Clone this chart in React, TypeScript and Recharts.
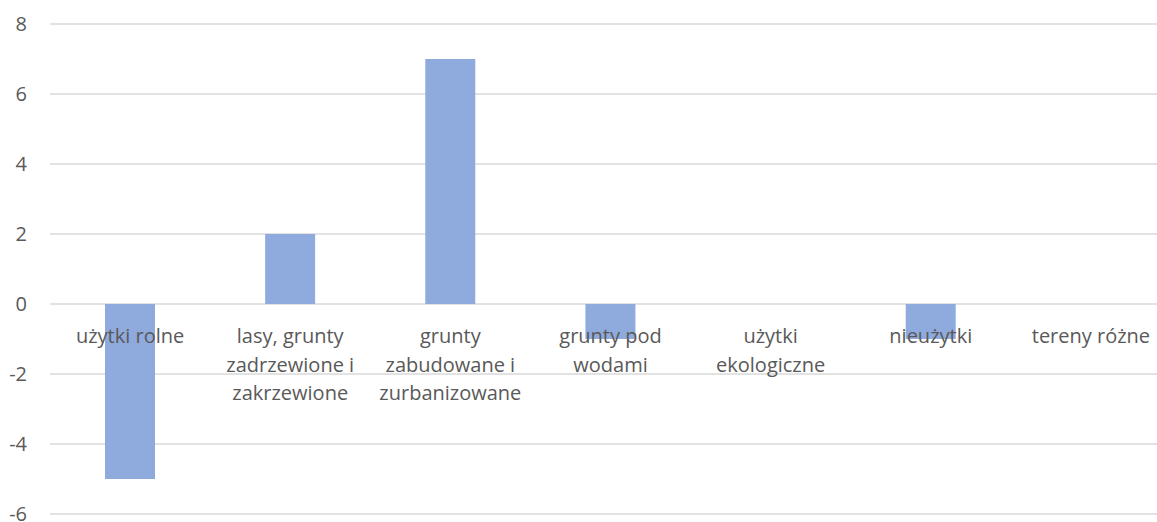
import { BarChart, Bar, XAxis, YAxis, CartesianGrid } from 'recharts'

const categories = [
  'użytki rolne',
  'lasy, grunty zadrzewione i zakrzewione',
  'grunty zabudowane i zurbanizowane',
  'grunty pod wodami',
  'użytki ekologiczne',
  'nieużytki',
  'tereny różne',
]
const values = [-5, 2, 7, -1, 0, -1, 0]
const yTicks = [-6, -4, -2, 0, 2, 4, 6, 8]

const data = categories.map((name, i) => ({ name, value: values[i] }))

const CHART_W = 1171
const CHART_H = 522
const TOP = 24
const X_AXIS_H = 8
const Y_MIN = -6
const Y_MAX = 8
const PLOT_H = CHART_H - TOP - X_AXIS_H
const FONT = '"Open Sans", sans-serif'

// greedy wrap, roughly like Excel does inside a category slot
function wrap(label: string, maxChars = 13) {
  const lines: string[] = []
  let cur = ''
  for (const w of label.split(' ')) {
    const next = cur ? cur + ' ' + w : w
    if (next.length > maxChars && cur) {
      lines.push(cur)
      cur = w
    } else {
      cur = next
    }
  }
  if (cur) lines.push(cur)
  return lines
}

function CategoryTick(props: any) {
  const { x, y, payload } = props
  // labels sit under the zero line, not at the bottom of the plot
  const zeroY = y - (PLOT_H * (0 - Y_MIN)) / (Y_MAX - Y_MIN)
  const lines = wrap(payload.value)
  return (
    <text x={x} y={zeroY} textAnchor="middle" fill="#595959" fontSize={20} fontFamily={FONT}>
      {lines.map((l, i) => (
        <tspan key={i} x={x} dy={i === 0 ? 39 : 28.5}>
          {l}
        </tspan>
      ))}
    </text>
  )
}

export default function App() {
  return (
    <div style={{ position: 'absolute', left: 0, top: 0, width: 1157, height: CHART_H, overflow: 'hidden', background: '#fff' }}>
      <BarChart width={CHART_W} height={CHART_H} data={data} margin={{ top: TOP, right: 0, bottom: 0, left: 0 }}>
        <CartesianGrid vertical={false} stroke="#d9d9d9" strokeWidth={1.5} />
        <XAxis
          dataKey="name"
          height={X_AXIS_H}
          axisLine={false}
          tickLine={false}
          tickSize={0}
          tickMargin={0}
          interval={0}
          tick={<CategoryTick />}
        />
        <YAxis
          domain={[Y_MIN, Y_MAX]}
          ticks={yTicks}
          interval={0}
          width={50}
          axisLine={false}
          tickLine={false}
          tickSize={0}
          tickMargin={23}
          tick={{ fill: '#595959', fontSize: 20, fontFamily: FONT }}
        />
        <Bar dataKey="value" fill="#8faadc" barSize={50} isAnimationActive={false} />
      </BarChart>
    </div>
  )
}
